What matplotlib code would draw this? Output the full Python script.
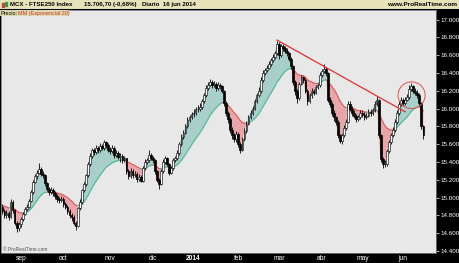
import matplotlib
matplotlib.use("Agg")
import matplotlib.pyplot as plt
from matplotlib.patches import Ellipse, Rectangle
import numpy as np

# ---------------- data ----------------
opens = [14900,14850,14800,14830,14780,14950,14860,14720,14660,
 14700,14760,14820,14870,14900,14960,15060,15180,15240,15280,15320,15270,15250,15160,15100,15060,15090,15050,15020,14980,14970,
 14990,14930,14900,14850,14800,14780,14720,14680,14880,14950,15080,15150,15250,15380,15470,15530,15510,15560,15530,15580,15560,15620,15590,
 15540,15520,15560,15480,15500,15460,15470,15420,15440,15300,15240,15300,15250,15270,15210,15230,15190,15330,15400,15420,15480,
 15450,15420,15300,15200,15150,15300,15400,15440,15380,15280,15330,15420,15440,15500,15600,15680,15730,15800,15870,15900,
 15935,15950,15990,16000,16020,16080,16150,16230,16270,16300,16260,16280,16230,16270,16250,16200,16060,15950,15880,15760,15700,15660,
 15720,15600,15540,15660,15750,15830,15900,15950,16000,16080,16150,16200,16320,16400,16430,16460,16500,16540,16580,16620,
 16730,16600,16700,16680,16650,16620,16560,16480,16300,16200,16120,16280,16350,16320,16200,16080,16150,16200,16180,16240,16260,
 16380,16420,16450,16400,16100,16050,15950,15900,15850,15700,15640,15700,15780,15850,16050,16000,15950,15920,15880,15900,
 15950,15930,15900,15920,15960,15950,15980,16050,16100,15700,15430,15380,15380,15520,15620,15700,15760,15850,15950,16050,
 16100,16060,16100,16130,16220,16250,16200,16180,16150,16060,15800]

closes = [14850,14800,14830,14780,14950,14860,14720,14660,14700,
 14760,14820,14870,14900,14960,15060,15180,15240,15280,15320,15270,15250,15160,15100,15060,15090,15050,15020,14980,14970,14990,
 14930,14900,14850,14800,14780,14720,14680,14880,14950,15080,15150,15250,15380,15470,15530,15510,15560,15530,15580,15560,15620,15590,15540,
 15520,15560,15480,15500,15460,15470,15420,15440,15300,15240,15300,15250,15270,15210,15230,15190,15330,15400,15420,15480,15450,
 15420,15300,15200,15150,15300,15400,15440,15380,15280,15330,15420,15440,15500,15600,15680,15730,15800,15870,15900,15935,
 15950,15990,16000,16020,16080,16150,16230,16270,16300,16260,16280,16230,16270,16250,16200,16060,15950,15880,15760,15700,15660,15720,
 15600,15540,15660,15750,15830,15900,15950,16000,16080,16150,16200,16320,16400,16430,16460,16500,16540,16580,16620,16730,
 16600,16700,16680,16650,16620,16560,16480,16300,16200,16120,16280,16350,16320,16200,16080,16150,16200,16180,16240,16260,16380,
 16420,16450,16400,16100,16050,15950,15900,15850,15700,15640,15700,15780,15850,16050,16000,15950,15920,15880,15900,15950,
 15930,15900,15920,15960,15950,15980,16050,16100,15700,15430,15380,15380,15520,15620,15700,15760,15850,15950,16050,16100,
 16060,16100,16130,16220,16250,16200,16180,16150,16060,15800,15707]

highs = [14930,14870,14860,14850,14980,14970,14870,14740,14730,
 14780,14840,14890,14930,14990,15090,15200,15270,15310,15390,15340,15300,15260,15180,15120,15120,15110,15070,15040,15010,15020,
 15010,14950,14920,14870,14830,14800,14740,14900,14980,15100,15180,15270,15400,15500,15560,15560,15590,15580,15610,15600,15650,15640,15610,
 15570,15590,15580,15530,15520,15500,15490,15470,15450,15320,15330,15320,15300,15290,15260,15250,15350,15430,15450,15530,15500,
 15470,15430,15310,15220,15320,15430,15470,15460,15390,15360,15450,15470,15530,15630,15710,15760,15830,15900,15930,15960,
 15990,16020,16040,16060,16110,16180,16260,16300,16330,16320,16310,16300,16300,16290,16270,16210,16080,15970,15900,15790,15730,15750,
 15740,15620,15680,15780,15860,15930,15980,16030,16110,16180,16240,16350,16430,16460,16490,16530,16570,16610,16650,16760,
 16750,16730,16730,16700,16680,16640,16580,16490,16320,16220,16300,16380,16370,16340,16220,16180,16230,16220,16270,16290,16410,
 16450,16500,16470,16410,16130,16070,15980,15920,15870,15720,15730,15810,15880,16080,16090,16030,15980,15940,15930,15980,
 15980,15960,15950,15990,15990,16010,16080,16140,16110,15720,15460,15420,15550,15650,15730,15790,15880,15980,16080,16130,
 16120,16130,16160,16260,16290,16270,16230,16210,16170,16070,15820]

lows = [14820,14770,14770,14750,14770,14830,14690,14610,14630,
 14670,14740,14800,14850,14880,14950,15040,15160,15210,15260,15240,15220,15130,15070,15030,15040,15020,14990,14950,14940,14950,
 14900,14870,14820,14770,14740,14690,14640,14670,14860,14930,15060,15130,15230,15360,15450,15480,15490,15500,15510,15530,15540,15560,15510,
 15490,15500,15450,15460,15430,15400,15390,15400,15270,15210,15220,15220,15230,15180,15190,15170,15180,15310,15380,15400,15420,
 15390,15270,15170,15100,15140,15280,15380,15350,15250,15260,15310,15400,15420,15480,15580,15660,15710,15780,15850,15880,
 15910,15930,15960,15970,16000,16060,16130,16210,16250,16230,16240,16200,16210,16220,16170,16030,15920,15840,15730,15660,15620,15630,
 15570,15500,15520,15640,15730,15810,15880,15930,15980,16060,16130,16180,16300,16380,16410,16440,16480,16520,16560,16600,
 16560,16580,16650,16620,16590,16530,16450,16270,16150,16060,16100,16260,16290,16170,16040,16060,16120,16150,16160,16220,16240,
 16360,16400,16370,16070,16020,15920,15860,15810,15670,15610,15600,15680,15760,15840,15970,15920,15890,15850,15860,15880,
 15900,15870,15880,15900,15920,15930,15960,16030,15670,15400,15330,15340,15360,15500,15600,15680,15740,15830,15930,16030,
 16030,16040,16080,16110,16200,16170,16150,16120,16030,15770,15660]

ema_start = 14920
ema_period = 20

month_ticks = [9, 30, 53, 74, 94, 116, 136, 157, 177, 197]
month_labels = ['sep', 'oct', 'nov', 'dic', '2014', 'feb', 'mar', 'abr', 'may', 'jun']

price_ticks = [14400, 14600, 14800, 15000, 15200, 15400, 15600, 15800,
               16000, 16200, 16400, 16600, 16800, 17000]
price_labels = ['14.400', '14.600', '14.800', '15.000', '15.200', '15.400', '15.600',
                '15.800', '16.000', '16.200', '16.400', '16.600', '16.800', '17.000']

trend_x = [135, 198]
trend_y = [16770, 15964]
circle_center = (201.2, 16150)
circle_size = (13.3, 300)

# ---------------- derived ----------------
o = np.array(opens, float)
c = np.array(closes, float)
h = np.array(highs, float)
l = np.array(lows, float)
n = len(c)
x = np.arange(n)

alpha = 2.0 / (ema_period + 1)
ema = np.empty(n)
prev = ema_start
for i in range(n):
    prev = prev + alpha * (c[i] - prev)
    ema[i] = prev

FONT = ['Liberation Sans', 'DejaVu Sans']

# ---------------- figure ----------------
W, H = 460, 263
fig = plt.figure(figsize=(W / 100, H / 100), dpi=100)
fig.patch.set_facecolor('black')

ax = fig.add_axes([1 / W, 10 / H, 435 / W, 243 / H])
ax.set_facecolor('#e8e8e8')

GREEN_FILL = '#a9cfca'
GREEN_LINE = '#4fb898'
RED_FILL = '#e8a6aa'
RED_LINE = '#e05a5e'

above = c >= ema
ax.fill_between(x, c, ema, where=above, interpolate=True, color=GREEN_FILL, lw=0, zorder=1)
ax.fill_between(x, c, ema, where=~above, interpolate=True, color=RED_FILL, lw=0, zorder=1)

for i in range(n - 1):
    col = GREEN_LINE if above[i + 1] else RED_LINE
    ax.plot(x[i:i + 2], ema[i:i + 2], color=col, lw=0.8, zorder=2, solid_capstyle='round')

# candles
ax.vlines(x, l, h, color='black', lw=0.6, zorder=3)
up = c >= o
body_lo = np.minimum(o, c)
body_h = np.maximum(np.abs(c - o), 8)
ax.bar(x[up], body_h[up], bottom=body_lo[up], width=0.85, color='white',
       edgecolor='#202020', linewidth=0.5, zorder=4)
ax.bar(x[~up], body_h[~up], bottom=body_lo[~up], width=0.85, color='black',
       edgecolor='black', linewidth=0.5, zorder=4)

# trend line and circle
ax.plot(trend_x, trend_y, color='#e03030', lw=0.9, zorder=5)
ax.add_patch(Ellipse(circle_center, circle_size[0], circle_size[1], fill=False,
                     edgecolor='#e05050', lw=0.7, zorder=5))

ax.set_xlim(-0.69, 213.2)
ax.set_ylim(14378, 17107)

ax.yaxis.tick_right()
ax.set_yticks(price_ticks)
ax.set_yticklabels(price_labels, family=FONT)
ax.tick_params(axis='y', colors='white', labelsize=4.5, length=2, width=0.5, pad=1)
ax.set_xticks(month_ticks)
ax.set_xticklabels(month_labels, family=FONT)
ax.tick_params(axis='x', colors='white', labelsize=4.8, length=0, pad=1.5)
for lbl in ax.get_xticklabels():
    if lbl.get_text() == '2014':
        lbl.set_fontweight('bold')
for s in ax.spines.values():
    s.set_color('#777777')
    s.set_linewidth(0.6)

ax.text(0.004, 0.004, '© ProRealTime.com', transform=ax.transAxes, fontsize=3.5,
        color='#555555', ha='left', va='bottom', family=FONT)

# indicator label box
lab = fig.add_axes([0, 247 / H, 69 / W, 6 / H])
lab.set_facecolor('#dcd9aa')
lab.set_xlim(0, 69); lab.set_ylim(0, 6)
lab.set_xticks([]); lab.set_yticks([])
for s in lab.spines.values():
    s.set_visible(False)
lab.text(1, 2.9, 'Precio:', fontsize=3.9, color='black', va='center', ha='left', family=FONT)
lab.text(18, 2.9, 'MM (Exponencial 20)', fontsize=3.9, color='#d03030', va='center', ha='left', family=FONT)

# header bar
hd = fig.add_axes([0, 254 / H, 1, 9 / H])
hd.set_facecolor('#e6e3b8')
hd.set_xlim(0, W); hd.set_ylim(0, 9)
hd.set_xticks([]); hd.set_yticks([])
for s in hd.spines.values():
    s.set_visible(False)
hd.axhline(0.3, color='#9a9870', lw=0.8)
hd.add_patch(Rectangle((2.5, 2.5), 2, 4, color='#d04040'))
hd.add_patch(Rectangle((5.5, 3.0), 2, 4, color='#30a040'))
hd.text(10, 4.6, 'MCX - FTSE250 Index', fontsize=4.4, fontweight='bold', va='center', ha='left', family=FONT)
hd.text(84, 4.6, '15.706,70 (-0,68%)', fontsize=4.4, fontweight='bold', va='center', ha='left', family=FONT)
hd.text(142, 4.6, 'Diario  16 jun 2014', fontsize=4.4, fontweight='bold', va='center', ha='left', family=FONT)
hd.text(457, 4.6, 'www.ProRealTime.com', fontsize=4.6, fontweight='bold', va='center', ha='right', family=FONT)

fig.savefig('out.png', dpi=100, facecolor=fig.get_facecolor())
